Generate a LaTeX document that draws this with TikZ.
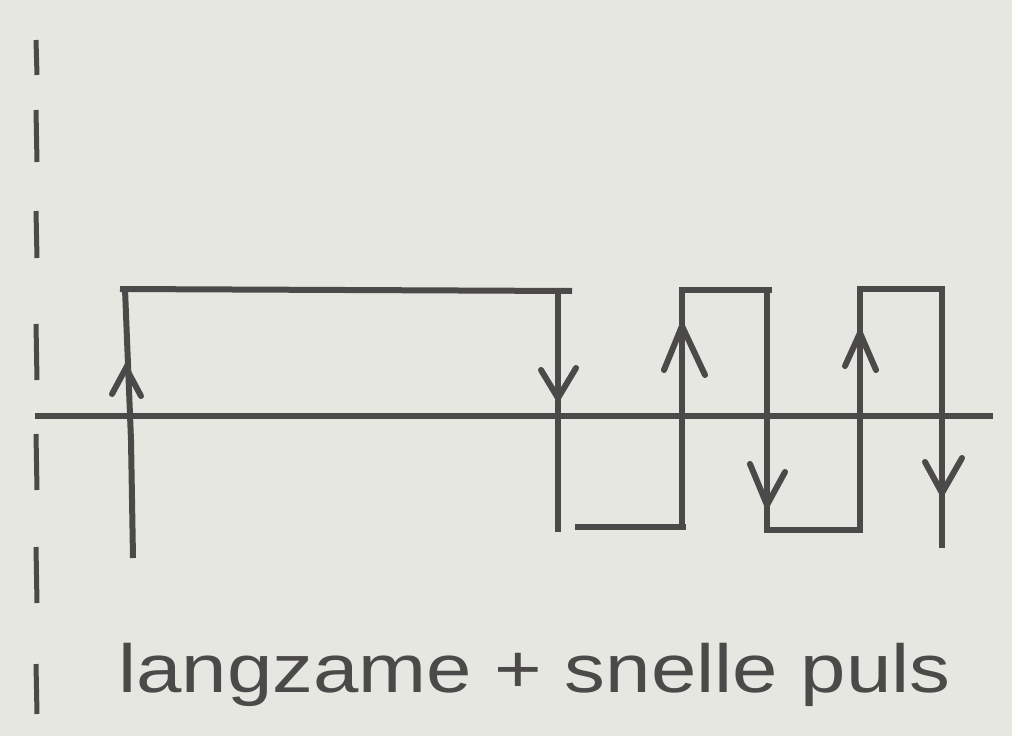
\documentclass[tikz,border=0pt]{standalone}
\usepackage{fontspec}
\setmainfont{Liberation Sans}
\definecolor{bg}{HTML}{E6E7E1}
\definecolor{ink}{HTML}{4B4A48}
\begin{document}
\begin{tikzpicture}[x=1pt,y=-1pt,
  wave/.style={draw=ink,line width=6pt,line cap=butt,line join=miter},
  chev/.style={draw=ink,line width=6pt,line cap=round,line join=miter},
  dashmark/.style={draw=ink,line width=5pt,line cap=butt},
  lbl/.style={text=ink,font=\fontsize{68}{72}\selectfont,inner sep=0pt,anchor=base west}]
\fill[bg] (0,0) rectangle (1012,736);
\useasboundingbox (0,0) rectangle (1012,736);
% dashed vertical line
\foreach \a/\b in {40/75,110/162,211/258,324/380,434/490,547/603,664/714}
  \draw[dashmark] (36,\a) -- (37,\b);
% axis
\coordinate (ax0) at (35,416);
\coordinate (ax1) at (993,416);
\draw[wave] (ax0) -- (ax1);
% waveform corners
\coordinate (u1b) at (133,558); \coordinate (u1k) at (131,440); \coordinate (u1t) at (125,289);
\coordinate (t1l) at (120,289); \coordinate (t1r) at (572,291);
\coordinate (d1t) at (558,291); \coordinate (d1b) at (558,532);
\coordinate (b1l) at (575,527); \coordinate (b1r) at (686,527);
\coordinate (u2b) at (682,527); \coordinate (u2t) at (682,290);
\coordinate (t2r) at (772,290);
\coordinate (d2t) at (767,290); \coordinate (d2b) at (767,530);
\coordinate (u3b) at (860,530); \coordinate (u3t) at (860,289);
\coordinate (t3r) at (945,289);
\coordinate (d3t) at (942,289); \coordinate (d3b) at (942,548);
\draw[wave] (u1b) -- (u1k) -- (u1t);
\draw[wave] (t1l) -- (t1r);
\draw[wave] (d1t) -- (d1b);
\draw[wave] (b1l) -- (b1r);
\draw[wave] (u2b) -- (u2t) -- (t2r);
\draw[wave] (d2t) -- (d2b) -- (u3b) -- (u3t) -- (t3r);
\draw[wave] (d3t) -- (d3b);
% chevron arrowheads
\draw[chev] (112,394) -- (126,368) -- (141,396);
\draw[chev] (541,370) -- (558,398) -- (576,368);
\draw[chev] (664,370) -- (682,326) -- (705,375);
\draw[chev] (750,464) -- (767,505) -- (785,472);
\draw[chev] (845,366) -- (860,333) -- (876,370);
\draw[chev] (925,462) -- (942,493) -- (962,458);
% label
\node[lbl] (label) at (118,692) {\scalebox{1.2}[1]{langzame + snelle puls}};
\end{tikzpicture}
\end{document}
